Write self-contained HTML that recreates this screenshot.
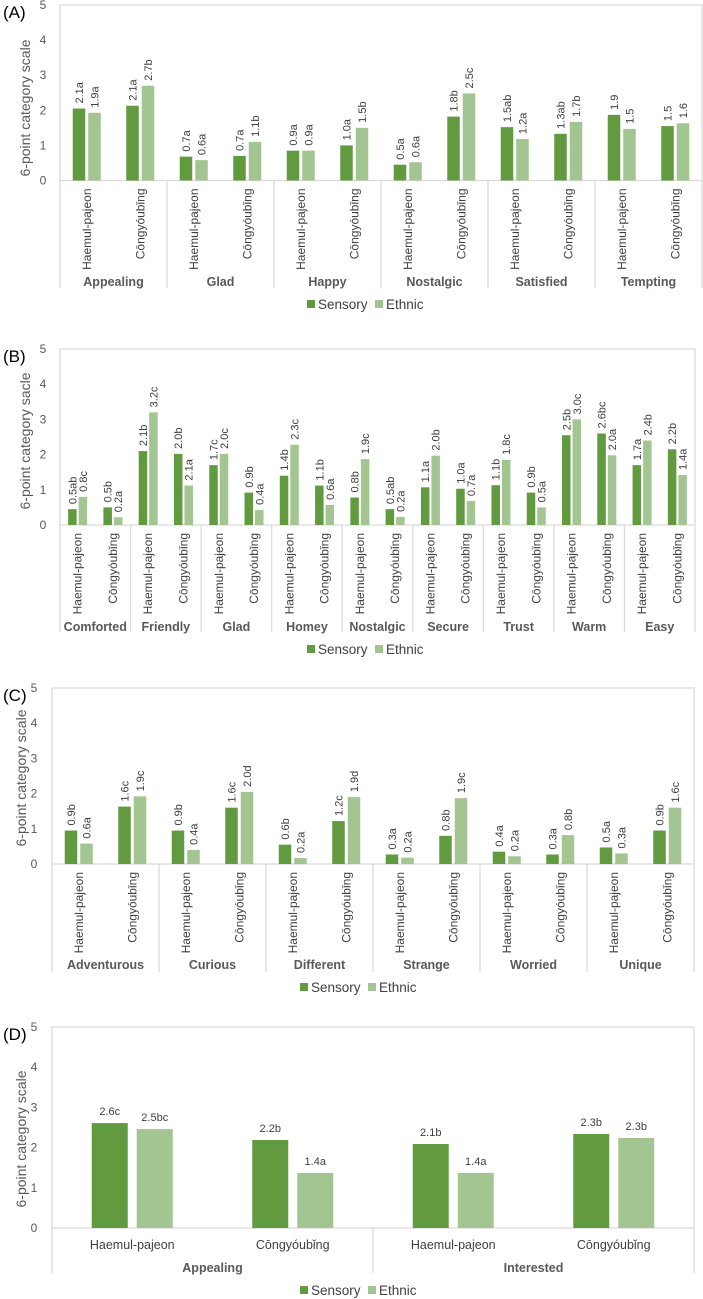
<!DOCTYPE html>
<html><head><meta charset="utf-8"><style>
html,body{margin:0;padding:0;background:#fff}
svg{display:block;font-family:"Liberation Sans",sans-serif}
</style></head><body>
<svg id="s" width="703" height="1299" viewBox="0 0 703 1299"></svg>
<script>
const subs=["Haemul-pajeon","Cōngyóubǐng"];
const catsA=["Appealing","Glad","Happy","Nostalgic","Satisfied","Tempting"];
const sensA=[2.05,2.13,0.68,0.7,0.85,1.0,0.45,1.82,1.52,1.33,1.87,1.55];
const ethA=[1.93,2.7,0.58,1.1,0.85,1.5,0.52,2.48,1.18,1.67,1.47,1.63];
const sensLblA=["2.1a","2.1a","0.7a","0.7a","0.9a","1.0a","0.5a","1.8b","1.5ab","1.3ab","1.9","1.5"];
const ethLblA=["1.9a","2.7b","0.6a","1.1b","0.9a","1.5b","0.6a","2.5c","1.2a","1.7b","1.5","1.6"];
const catsB=["Comforted","Friendly","Glad","Homey","Nostalgic","Secure","Trust","Warm","Easy"];
const sensB=[0.45,0.5,2.1,2.02,1.7,0.92,1.4,1.12,0.78,0.45,1.07,1.03,1.13,0.92,2.55,2.6,1.7,2.15];
const ethB=[0.8,0.22,3.2,1.12,2.02,0.43,2.28,0.57,1.87,0.23,1.97,0.68,1.85,0.5,3.0,1.98,2.4,1.42];
const sensLblB=["0.5ab","0.5b","2.1b","2.0b","1.7c","0.9b","1.4b","1.1b","0.8b","0.5ab","1.1a","1.0a","1.1b","0.9b","2.5b","2.6bc","1.7a","2.2b"];
const ethLblB=["0.8c","0.2a","3.2c","2.1a","2.0c","0.4a","2.3c","0.6a","1.9c","0.2a","2.0b","0.7a","1.8c","0.5a","3.0c","2.0a","2.4b","1.4a"];
const catsC=["Adventurous","Curious","Different","Strange","Worried","Unique"];
const sensC=[0.95,1.63,0.95,1.6,0.55,1.22,0.27,0.8,0.35,0.27,0.47,0.95];
const ethC=[0.58,1.92,0.4,2.05,0.17,1.9,0.18,1.87,0.22,0.82,0.3,1.6];
const sensLblC=["0.9b","1.6c","0.9b","1.6c","0.6b","1.2c","0.3a","0.8b","0.4a","0.3a","0.5a","0.9b"];
const ethLblC=["0.6a","1.9c","0.4a","2.0d","0.2a","1.9d","0.2a","1.9c","0.2a","0.8b","0.3a","1.6c"];
const catsD=["Appealing","Interested"];
const sensD=[2.61,2.19,2.09,2.34];
const ethD=[2.46,1.37,1.37,2.24];
const sensLblD=["2.6c","2.2b","2.1b","2.3b"];
const ethLblD=["2.5bc","1.4a","1.4a","2.3b"];
const yTicks=[0,1,2,3,4,5];

const NS="http://www.w3.org/2000/svg";
const svg=document.getElementById('s');
function el(t,a,p){const e=document.createElementNS(NS,t);for(const k in a)e.setAttribute(k,a[k]);(p||svg).appendChild(e);return e;}
function txt(s,a,p){const e=el('text',a,p);e.textContent=s;return e;}

function panel(o){
  const g=el('g',{});
  
  
  const yS=v=>o.y0-(o.y0-o.y5)*v/5;
  const n=o.sens.length, pitch=(o.R-o.L)/n;
  const pl=txt('('+o.id+')',{x:3,y:o.y5+13,'font-size':17,fill:'#000'},g);
  
  
  const yt=txt(o.ytitle,{x:0,y:0,'font-size':14,fill:'#595959','text-anchor':'middle',transform:`translate(${o.tx},${o.tc}) rotate(-90)`},g);
  
  
  const fr=el('path',{d:`M${o.L},${o.fb}V${o.y5}H${o.R}V${o.fb}`,fill:'none',stroke:'#d9d9d9','stroke-width':1.2},g);
  
  
  yTicks.forEach(t=>{
    const tl=txt(String(t),{x:o.tickX,y:yS(t)+4,'font-size':12,fill:'#595959','text-anchor':'middle'},g);
    
    
  });
  const ax=el('line',{x1:o.L,x2:o.R,y1:o.y0,y2:o.y0,stroke:'#d9d9d9','stroke-width':1.2},g);
  
  
  const per=n/o.cats.length;
  o.cats.forEach((c,i)=>{
    if(i>0){const sl=el('line',{x1:o.L+i*per*pitch,x2:o.L+i*per*pitch,y1:o.y0,y2:o.fb,stroke:'#d9d9d9','stroke-width':1.2},g);
      
      }
    const ct=txt(c,{x:o.L+(i+0.5)*per*pitch,y:o.catY,'font-size':12.5,'font-weight':'bold',fill:'#595959','text-anchor':'middle'},g);
    
    
  });
  for(let i=0;i<n;i++){
    const cx=o.L+(i+0.5)*pitch;
    const xs=cx-o.gap/2-o.bw, xe=cx+o.gap/2;
    const b1=el('rect',{x:xs,y:yS(o.sens[i]),width:o.bw,height:o.y0-yS(o.sens[i]),fill:'#629a3f'},g);
    
    
    const b2=el('rect',{x:xe,y:yS(o.eth[i]),width:o.bw,height:o.y0-yS(o.eth[i]),fill:'#a2c591'},g);
    
    
    [[xs,o.sens[i],o.sl[i]],[xe,o.eth[i],o.el[i]]].forEach(([x,v,l])=>{
      let t;
      if(o.horiz) t=txt(l,{x:x+o.bw/2,y:yS(v)-8,'font-size':11,fill:'#404040','text-anchor':'middle'},g);
      else t=txt(l,{x:0,y:0,'font-size':11,fill:'#404040',transform:`translate(${x+o.bw/2+4},${yS(v)-5}) rotate(-90)`},g);
      
      
    });
    const s=subs[i%2];
    let st;
    if(o.horiz) st=txt(s,{x:cx,y:o.subY,'font-size':12.5,fill:'#404040','text-anchor':'middle'},g);
    else st=txt(s,{x:0,y:0,'font-size':12,fill:'#404040','text-anchor':'end',transform:`translate(${cx+4},${o.y0+8}) rotate(-90)`},g);
    
    
  }
  const lg=el('g',{},g);
  
  
  const lx=o.legX, ly=o.legY;
  const l1=el('rect',{x:lx,y:ly-9,width:8,height:8,fill:'#629a3f'},lg);
  
  
  const t1=txt('Sensory',{x:lx+11,y:ly,'font-size':13.5,fill:'#404040'},lg);
  
  
  const l2=el('rect',{x:lx+68,y:ly-9,width:8,height:8,fill:'#a2c591'},lg);
  
  
  const t2=txt('Ethnic',{x:lx+79,y:ly,'font-size':13.5,fill:'#404040'},lg);
  
  
}
panel({id:'A',cats:catsA,sens:sensA,eth:ethA,sl:sensLblA,el:ethLblA,L:60,R:702,y5:5,y0:180.5,fb:288,catY:286,tickX:43,tx:30,tc:108,ytitle:'6-point category scale',bw:12.5,gap:3,legX:307,legY:309});
panel({id:'B',cats:catsB,sens:sensB,eth:ethB,sl:sensLblB,el:ethLblB,L:60,R:695,y5:349,y0:525,fb:632,catY:631,tickX:43,tx:30,tc:441,ytitle:'6-point category sacle',bw:8.5,gap:2,legX:307,legY:654});
panel({id:'C',cats:catsC,sens:sensC,eth:ethC,sl:sensLblC,el:ethLblC,L:52,R:694,y5:688,y0:864,fb:972,catY:969,tickX:34,tx:26,tc:778,ytitle:'6-point category scale',bw:12.5,gap:3,legX:300,legY:992});
panel({id:'D',cats:catsD,sens:sensD,eth:ethD,sl:sensLblD,el:ethLblD,L:52,R:694,y5:1027,y0:1228,fb:1273,catY:1272,subY:1249,tickX:34,tx:26,tc:1139,ytitle:'6-point category scale',bw:36,gap:9,horiz:true,legX:300,legY:1295});
</script>
</body></html>
